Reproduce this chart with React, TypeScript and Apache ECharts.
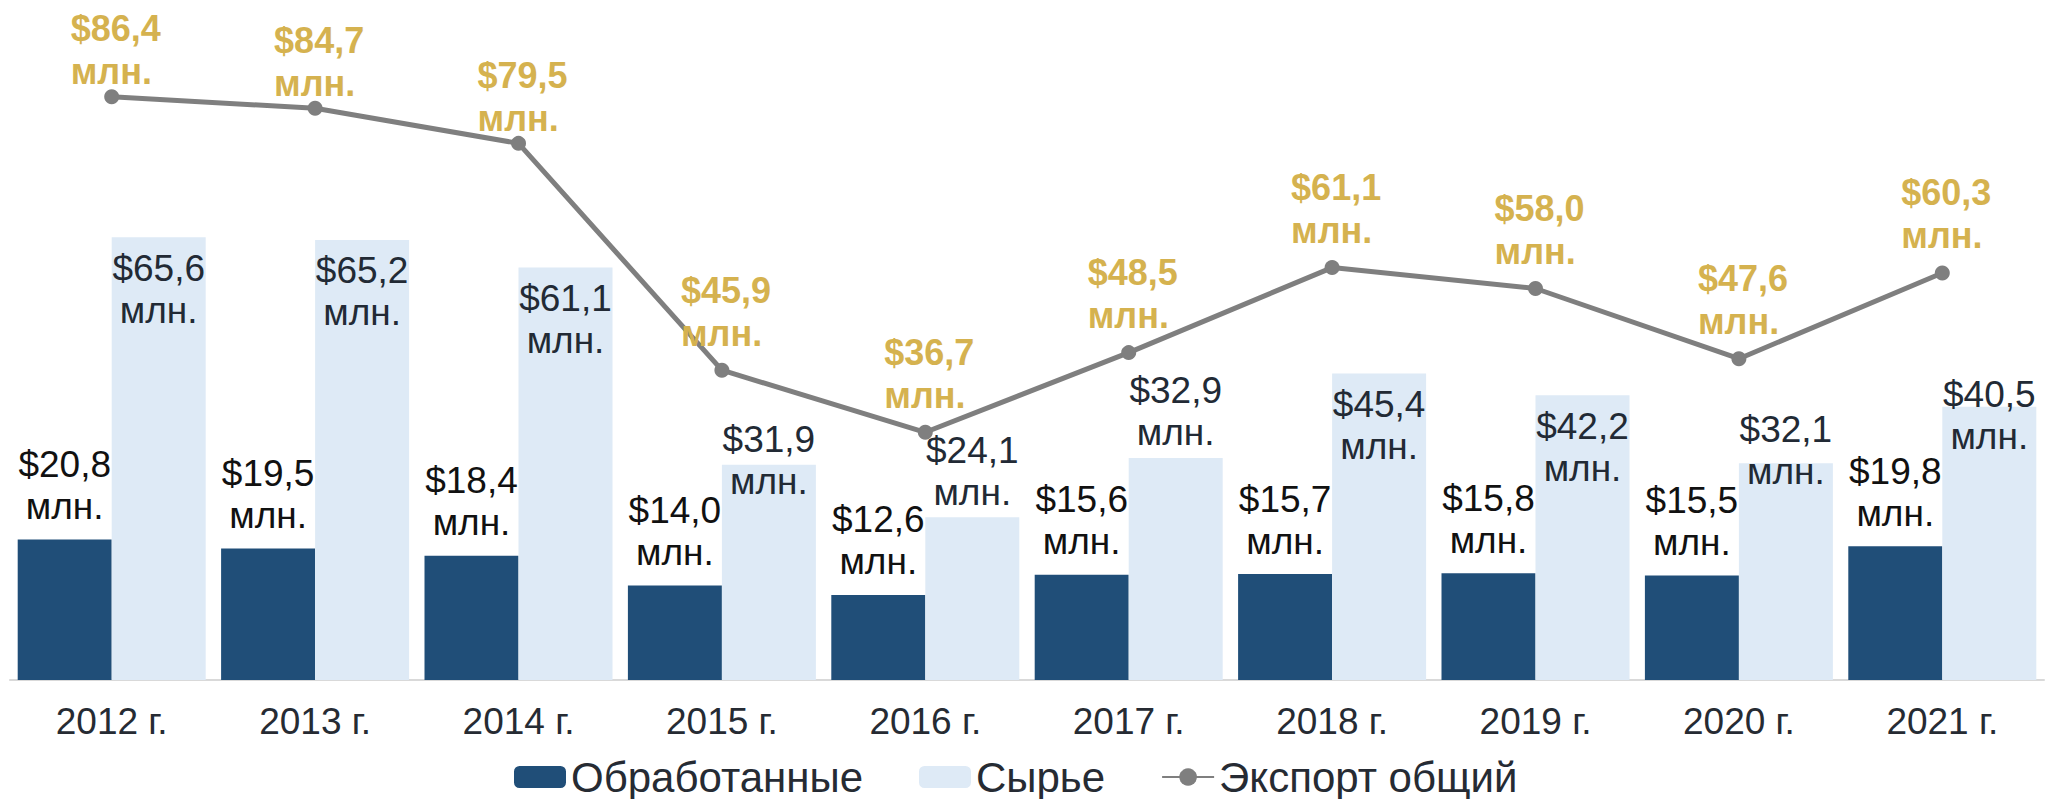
import React, { useEffect, useRef } from "react";
import * as echarts from "echarts";

const categories = ["2012 г.", "2013 г.", "2014 г.", "2015 г.", "2016 г.", "2017 г.", "2018 г.", "2019 г.", "2020 г.", "2021 г."];
const processed = [20.8, 19.5, 18.4, 14.0, 12.6, 15.6, 15.7, 15.8, 15.5, 19.8];
const raw = [65.6, 65.2, 61.1, 31.9, 24.1, 32.9, 45.4, 42.2, 32.1, 40.5];
const total = [86.4, 84.7, 79.5, 45.9, 36.7, 48.5, 61.1, 58.0, 47.6, 60.3];
// label placement style for the "Сырье" bars
const rawLabelMode = ["inside", "inside", "inside", "straddle", "above", "above", "inside", "inside", "straddleHigh", "straddleLow"];

const fmt = (v: number) => "$" + v.toFixed(1).replace(".", ",") + "\nмлн.";
const FONT = "'Liberation Sans', Arial, sans-serif";

const modeLabel: Record<string, any> = {
  inside: { position: "insideTop", distance: 10 },
  straddle: { position: "top", distance: -38 },
  straddleHigh: { position: "top", distance: -29 },
  straddleLow: { position: "top", distance: -51 },
  above: { position: "top", distance: 4 },
};

export default function App() {
  const ref = useRef<HTMLDivElement>(null);
  useEffect(() => {
    document.body.style.margin = "0";
    const chart = echarts.init(ref.current!, null, { renderer: "svg" });
    const rawData = raw.map((v, i) => ({ value: v, label: modeLabel[rawLabelMode[i]] }));
    const totalData = total.map((v) => ({ value: v, label: { distance: v >= 79 ? -4 : 8 } }));
    chart.setOption({
      animation: false,
      textStyle: { fontFamily: FONT },
      grid: { left: 10, right: 18, top: 5, bottom: 119 },
      xAxis: {
        type: "category",
        data: categories,
        axisLine: { lineStyle: { color: "#d9d9d9", width: 2 } },
        axisTick: { show: false },
        axisLabel: { color: "#262b33", fontSize: 37, margin: 23, fontFamily: FONT },
      },
      yAxis: { type: "value", min: 0, max: 100, show: false, splitLine: { show: false } },
      legend: {
        data: ["Обработанные", "Сырье", "Экспорт общий"],
        left: 509,
        top: 751,
        itemWidth: 52,
        itemHeight: 22,
        itemGap: 56,
        textStyle: { fontSize: 42, color: "#262b33", fontFamily: FONT },
      },
      series: [
        {
          name: "Обработанные",
          type: "bar",
          data: processed,
          barWidth: 94,
          barGap: "0%",
          itemStyle: { color: "#204e78" },
          label: {
            show: true,
            position: "top",
            distance: 12,
            formatter: (p: any) => fmt(p.value),
            fontSize: 37,
            lineHeight: 42,
            color: "#111111",
            fontFamily: FONT,
          },
        },
        {
          name: "Сырье",
          type: "bar",
          data: rawData,
          barWidth: 94,
          barGap: "0%",
          itemStyle: { color: "#deeaf6" },
          label: {
            show: true,
            formatter: (p: any) => fmt(p.value),
            fontSize: 37,
            lineHeight: 42,
            color: "#222a35",
            fontFamily: FONT,
          },
        },
        {
          name: "Экспорт общий",
          type: "line",
          data: totalData,
          symbol: "circle",
          symbolSize: 15,
          lineStyle: { color: "#7f7f7f", width: 5 },
          itemStyle: { color: "#7f7f7f" },
          label: {
            show: true,
            position: "top",
            align: "left",
            offset: [-41, 0],
            formatter: (p: any) => fmt(p.value),
            fontSize: 36,
            lineHeight: 43,
            fontWeight: "bold",
            color: "#d5b24f",
            fontFamily: FONT,
          },
          z: 5,
        },
      ],
    });
    return () => chart.dispose();
  }, []);
  return <div ref={ref} style={{ width: 2062, height: 799 }} />;
}
